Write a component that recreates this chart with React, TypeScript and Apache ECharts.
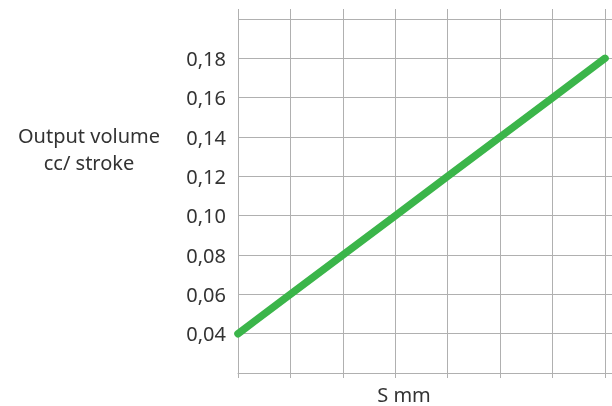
import React, { useEffect, useRef } from "react";
import * as echarts from "echarts";

const strokeMm = [0, 1, 2, 3, 4, 5, 6, 7];
const outputVolume = [0.04, 0.06, 0.08, 0.1, 0.12, 0.14, 0.16, 0.18];
const yTitle = "Output volume\ncc/ stroke";
const xTitle = "S mm";

export default function App() {
  const ref = useRef<HTMLDivElement>(null);
  useEffect(() => {
    if (!ref.current) return;
    const chart = echarts.init(ref.current, null, { renderer: "svg" });
    const font = "Noto Sans";
    const grey = "#b0b0b0";
    chart.setOption({
      animation: false,
      textStyle: { fontFamily: font },
      title: [
        {
          text: yTitle,
          left: 84,
          top: 117,
          textAlign: "center",
          textStyle: { fontFamily: font, fontSize: 20, fontWeight: "normal", color: "#333", lineHeight: 27, align: "center" },
        },
        {
          text: xTitle,
          left: 404,
          top: 383,
          padding: 0,
          textAlign: "center",
          textStyle: { fontFamily: font, fontSize: 20, fontWeight: "normal", color: "#333", lineHeight: 22 },
        },
      ],
      grid: { left: 238, right: 0, top: 9, bottom: 33, containLabel: false },
      xAxis: {
        type: "value",
        min: 0,
        max: 7.133,
        interval: 1,
        axisLine: { show: true, lineStyle: { color: grey, width: 1 } },
        axisTick: { show: true, length: 5, lineStyle: { color: grey } },
        axisLabel: { show: false },
        splitLine: { show: true, showMaxLine: false, lineStyle: { color: grey, width: 1 } },
      },
      yAxis: {
        type: "value",
        min: 0.02,
        max: 0.2051,
        interval: 0.02,
        axisLine: { show: false },
        axisTick: { show: false },
        axisLabel: {
          fontFamily: font,
          fontSize: 20,
          color: "#333",
          margin: 12,
          formatter: (v: number) => (v < 0.03 || v > 0.19 ? "" : v.toFixed(2).replace(".", ",")),
        },
        splitLine: { show: true, showMaxLine: false, lineStyle: { color: grey, width: 1 } },
      },
      series: [
        {
          type: "line",
          data: strokeMm.map((x, i) => [x, outputVolume[i]]),
          symbol: "none",
          lineStyle: { color: "#3bb54a", width: 7.5, cap: "round" },
          clip: false,
        },
      ],
    });
    return () => chart.dispose();
  }, []);
  return <div ref={ref} style={{ position: "fixed", left: 0, top: 0, width: 612, height: 406 }} />;
}
